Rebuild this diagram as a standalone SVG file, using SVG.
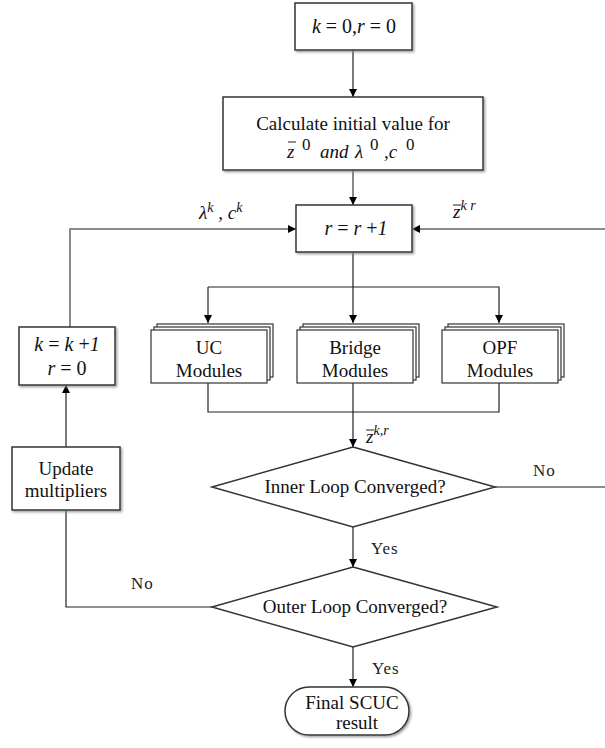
<svg xmlns="http://www.w3.org/2000/svg" width="605" height="748" viewBox="0 0 605 748">
  <defs>
    <marker id="arrow" viewBox="0 0 10 10" refX="10" refY="5" markerWidth="8" markerHeight="8" markerUnits="userSpaceOnUse" orient="auto">
      <path d="M0,0 L10,5 L0,10 z" fill="#000"/>
    </marker>
    <filter id="shadow" x="-10%" y="-10%" width="130%" height="130%">
      <feDropShadow dx="1.5" dy="1.5" stdDeviation="0.8" flood-color="#888" flood-opacity="0.8"/>
    </filter>
  </defs>
  <style>
    .box { fill: #fff; stroke: #333; stroke-width: 1.5; }
    .stack { fill: #fff; stroke: #333; stroke-width: 1.2; }
    .line { fill: none; stroke: #222; stroke-width: 1.2; }
    .loop { fill: none; stroke: #8a8a8a; stroke-width: 2; }
    text { font-family: "Liberation Serif", "Times New Roman", serif; fill: #111; }
    .t { font-size: 19px; text-anchor: middle; }
    .eq { font-size: 20px; text-anchor: middle; }
    .m { font-style: italic; font-size: 19px; }
    .lbl { font-size: 17px; fill: #222; letter-spacing: 1px; }
    .bar { stroke: #222; stroke-width: 1; }
  </style>

  <!-- connectors -->
  <g id="connectors">
    <line class="line" x1="353" y1="50" x2="353" y2="97" marker-end="url(#arrow)"/>
    <line class="loop" x1="353" y1="170" x2="353" y2="205" marker-end="url(#arrow)"/>
    <!-- feedback from multipliers into r = r+1 -->
    <polyline class="loop" points="70,327 70,229 296,229" marker-end="url(#arrow)"/>
    <!-- feedback from inner loop into r = r+1 -->
    <line class="loop" x1="605" y1="229" x2="412" y2="229" marker-end="url(#arrow)"/>
    <!-- fan out to modules -->
    <line class="line" x1="353" y1="252" x2="353" y2="287"/>
    <polyline class="line" points="208,287 499,287 499,323" marker-end="url(#arrow)"/>
    <line class="line" x1="208" y1="287" x2="208" y2="323" marker-end="url(#arrow)"/>
    <line class="line" x1="353" y1="287" x2="353" y2="323" marker-end="url(#arrow)"/>
    <!-- gather from modules -->
    <polyline class="line" points="208,383 208,412 499,412 499,383"/>
    <line class="line" x1="353" y1="383" x2="353" y2="447" marker-end="url(#arrow)"/>
    <!-- inner loop no -->
    <line class="loop" x1="495" y1="487" x2="605" y2="487"/>
    <line class="line" x1="353" y1="527" x2="353" y2="567" marker-end="url(#arrow)"/>
    <!-- outer loop no -->
    <polyline class="line" points="212,607 66,607 66,510"/>
    <line class="line" x1="66" y1="447" x2="66" y2="385" marker-end="url(#arrow)"/>
    <line class="line" x1="353" y1="647" x2="353" y2="687" marker-end="url(#arrow)"/>

    <!-- connector labels -->
    <text class="m" x="199" y="219">λ<tspan dy="-7" font-size="14">k</tspan><tspan dy="7"> , c</tspan><tspan dy="-7" font-size="14">k</tspan></text>
    <text class="m" x="453" y="218">z<tspan dy="-8" font-size="14">k</tspan><tspan font-size="14"> r</tspan></text>
    <line class="bar" x1="453" y1="205" x2="461" y2="205"/>
    <text class="m" x="366" y="443">z<tspan dy="-8" font-size="14">k</tspan><tspan font-size="14">,r</tspan></text>
    <line class="bar" x1="366" y1="430" x2="374" y2="430"/>
    <text class="lbl" x="533" y="476">No</text>
    <text class="lbl" x="371" y="554" letter-spacing="2">Yes</text>
    <text class="lbl" x="131" y="589">No</text>
    <text class="lbl" x="372" y="674" letter-spacing="2">Yes</text>
  </g>

  <g id="init">
    <rect class="box" x="295" y="3" width="117" height="47" filter="url(#shadow)"/>
    <text class="eq" x="354" y="33"><tspan font-style="italic">k</tspan> = 0,<tspan font-style="italic">r</tspan> = 0</text>
  </g>

  <g id="initial-value">
    <rect class="box" x="223" y="97" width="260" height="73" filter="url(#shadow)"/>
    <text class="t" x="353" y="130">Calculate initial value for</text>
    <text class="m" y="158"><tspan x="287">z</tspan><tspan x="302" y="150" font-size="17" font-style="normal">0</tspan><tspan x="320" y="158">and</tspan><tspan x="355">λ</tspan><tspan x="370" y="150" font-size="17" font-style="normal">0</tspan><tspan x="384" y="158">,c</tspan><tspan x="406" y="150" font-size="17" font-style="normal">0</tspan></text>
    <line class="bar" x1="288" y1="142" x2="296" y2="142"/>
  </g>

  <g id="iterate-r">
    <rect class="box" x="296" y="205" width="116" height="47" filter="url(#shadow)"/>
    <text class="eq" x="356" y="235"><tspan font-style="italic">r</tspan> = <tspan font-style="italic">r</tspan> +<tspan font-style="italic">1</tspan></text>
  </g>

  <g id="uc-modules">
    <rect class="stack" x="157" y="324" width="116" height="53"/>
    <rect class="stack" x="154" y="327" width="116" height="53"/>
    <rect class="stack" x="151" y="330" width="116" height="53"/>
    <text class="t" x="209" y="354">UC</text>
    <text class="t" x="209" y="377">Modules</text>
  </g>

  <g id="bridge-modules">
    <rect class="stack" x="303" y="324" width="116" height="53"/>
    <rect class="stack" x="300" y="327" width="116" height="53"/>
    <rect class="stack" x="297" y="330" width="116" height="53"/>
    <text class="t" x="355" y="354">Bridge</text>
    <text class="t" x="355" y="377">Modules</text>
  </g>

  <g id="opf-modules">
    <rect class="stack" x="448" y="324" width="116" height="53"/>
    <rect class="stack" x="445" y="327" width="116" height="53"/>
    <rect class="stack" x="442" y="330" width="116" height="53"/>
    <text class="t" x="500" y="354">OPF</text>
    <text class="t" x="500" y="377">Modules</text>
  </g>

  <g id="next-k">
    <rect class="box" x="19" y="327" width="96" height="58" filter="url(#shadow)"/>
    <text class="eq" x="67" y="351"><tspan font-style="italic">k</tspan> = <tspan font-style="italic">k</tspan> +<tspan font-style="italic">1</tspan></text>
    <text class="eq" x="67" y="375"><tspan font-style="italic">r</tspan> = 0</text>
  </g>

  <g id="update-multipliers">
    <rect class="box" x="12" y="447" width="108" height="63" filter="url(#shadow)"/>
    <text class="t" x="66" y="475" font-size="18">Update</text>
    <text class="t" x="66" y="497" font-size="18">multipliers</text>
  </g>

  <g id="inner-loop">
    <polygon class="box" points="353,447 495,487 353,527 212,487" stroke-width="1.2"/>
    <text class="t" x="355" y="493">Inner Loop Converged?</text>
  </g>

  <g id="outer-loop">
    <polygon class="box" points="353,567 497,607 353,647 212,607" stroke-width="1.2"/>
    <text class="t" x="355" y="613">Outer Loop Converged?</text>
  </g>

  <g id="final-result">
    <rect class="box" x="285" y="687" width="124" height="48" rx="24" ry="24" filter="url(#shadow)"/>
    <text class="t" x="352" y="709" font-size="18.5">Final SCUC</text>
    <text class="t" x="357" y="729" font-size="18.5">result</text>
  </g>
</svg>
